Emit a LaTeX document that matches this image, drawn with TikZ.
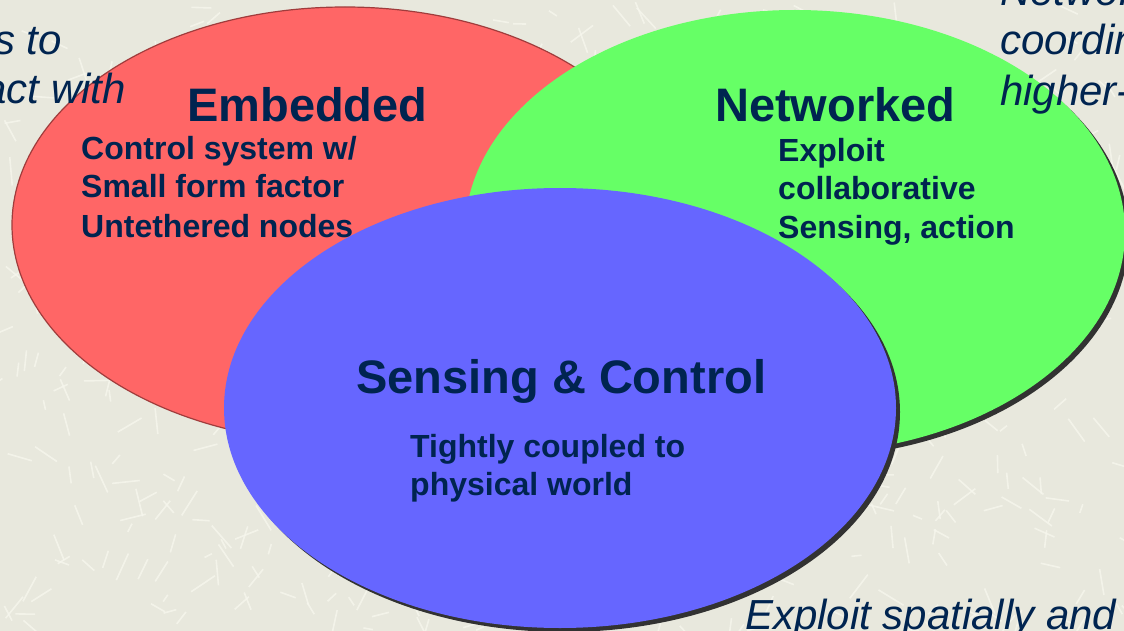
\documentclass[tikz,border=0pt]{standalone}
\usepackage{fontspec}
\setmainfont{Liberation Sans}
\definecolor{bgc}{RGB}{232,232,221}
\definecolor{streak}{RGB}{246,246,237}
\definecolor{redf}{RGB}{255,102,102}
\definecolor{redline}{RGB}{160,60,60}
\definecolor{greenf}{RGB}{102,255,102}
\definecolor{bluef}{RGB}{102,102,255}
\definecolor{shadowc}{RGB}{50,50,50}
\definecolor{navy}{RGB}{0,36,80}
\begin{document}
\begin{tikzpicture}[x=1pt,y=-1pt,
  heading/.style={inner sep=0pt,text=navy,font=\fontsize{47}{47}\selectfont\bfseries},
  subtext/.style={inner sep=0pt,text=navy,font=\fontsize{32}{32}\selectfont\bfseries},
  sidetext/.style={inner sep=0pt,text=navy,font=\fontsize{42}{42}\selectfont\itshape}]
\useasboundingbox (0,0) rectangle (1124,631);
\clip (0,0) rectangle (1124,631);
\fill[bgc] (0,0) rectangle (1124,631);
\pgfmathsetseed{7}
\foreach \i in {1,...,650}{
  \pgfmathsetmacro\xx{rnd*1124}
  \pgfmathsetmacro\yy{rnd*631}
  \pgfmathsetmacro\aa{rnd*180}
  \pgfmathsetmacro\ll{8+rnd*22}
  \draw[streak,line width=1.6pt,opacity=0.8] (\xx,\yy) -- ++(\aa:\ll);
}
% red ellipse
\filldraw[fill=redf,draw=redline,line width=1.2pt] (345,225) ellipse [x radius=333, y radius=218];
% green ellipse
\fill[shadowc] (799,236) ellipse [x radius=330, y radius=222];
\fill[greenf] (795,232) ellipse [x radius=330, y radius=222];
% blue ellipse
\fill[shadowc] (564,412) ellipse [x radius=336, y radius=220];
\fill[bluef] (560,408) ellipse [x radius=336, y radius=220];
% headings
\node[heading,anchor=base west] (emb) at (187,122) {Embedded};
\node[heading,anchor=base west] (net) at (715,122) {Networked};
\node[heading,anchor=base west] (sc) at (356,393) {Sensing \& Control};
% embedded text
\node[subtext,anchor=base west] (e1) at (81,160) {Control system w/};
\node[subtext,anchor=base west] (e2) at (81,198) {Small form factor};
\node[subtext,anchor=base west] (e3) at (81,237) {Untethered nodes};
% networked text
\node[subtext,anchor=base west] (n1) at (778,162) {Exploit};
\node[subtext,anchor=base west] (n2) at (778,200) {collaborative};
\node[subtext,anchor=base west] (n3) at (778,238) {Sensing, action};
% sensing text
\node[subtext,anchor=base west] (s1) at (410,457) {Tightly coupled to};
\node[subtext,anchor=base west] (s2) at (410,495) {physical world};
% side texts (cut by the frame)
\node[sidetext,anchor=base east] (l1) at (62,55) {s to};
\node[sidetext,anchor=base east] (l2) at (126,104) {act with};
\node[sidetext,anchor=base west] (r0) at (1000,6) {Networ};
\node[sidetext,anchor=base west] (r1) at (1000,55) {coordin};
\node[sidetext,anchor=base west] (r2) at (1000,106) {higher-};
\node[sidetext,anchor=base west] (b1) at (745,629) {Exploit spatially and};
\end{tikzpicture}
\end{document}
